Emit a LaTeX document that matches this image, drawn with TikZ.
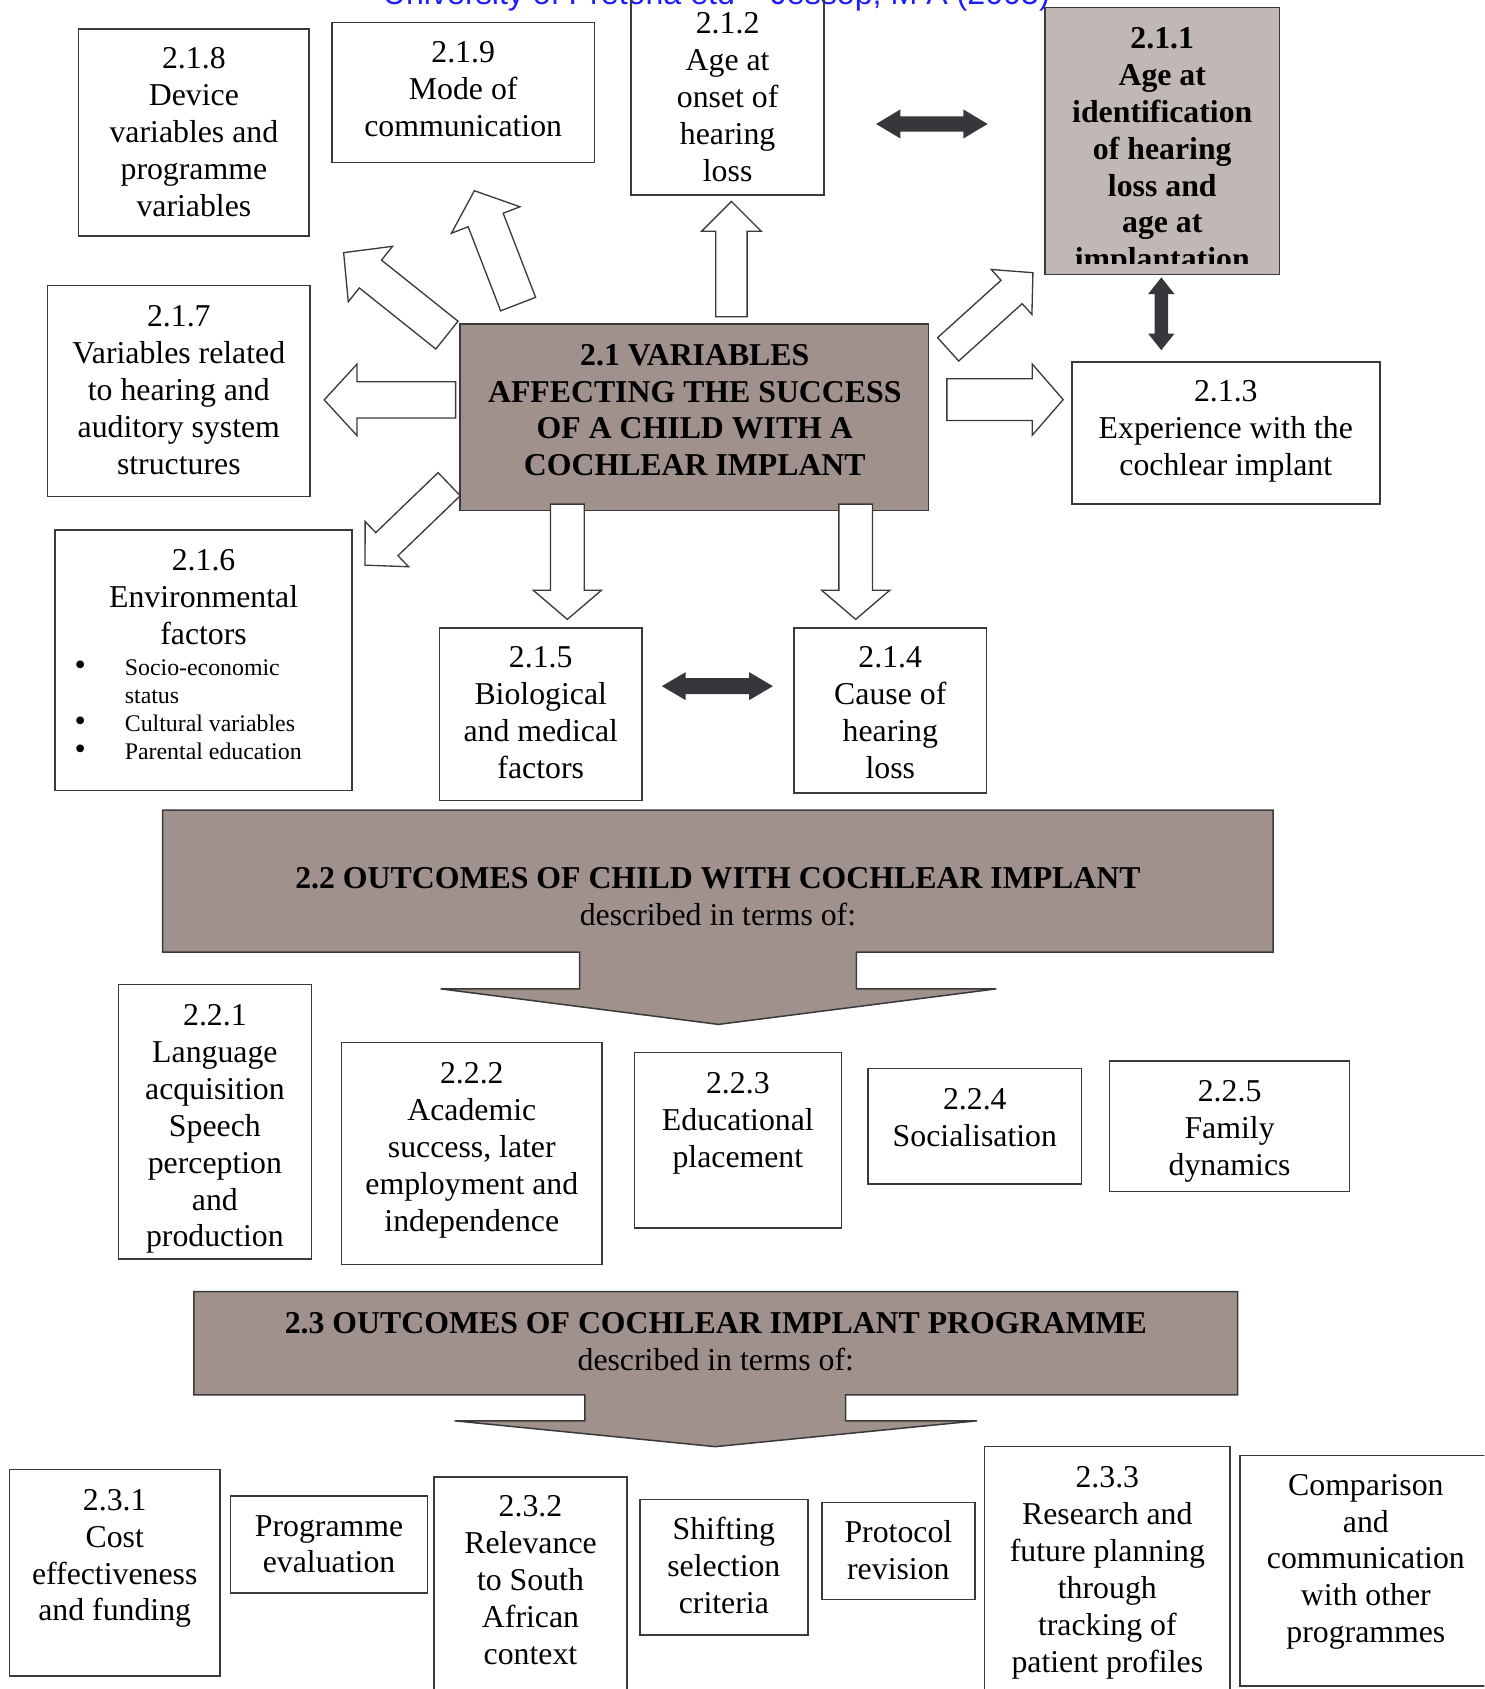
\documentclass[tikz,border=0pt]{standalone}
\usepackage{fontspec}
\setmainfont{Liberation Serif}
\newfontfamily\headfont{Liberation Sans}
\usetikzlibrary{shapes.arrows}
\definecolor{framegray}{RGB}{58,58,58}
\definecolor{boxbrown}{RGB}{160,145,141}
\definecolor{boxrose}{RGB}{193,184,181}
\definecolor{arrowdark}{RGB}{56,54,58}
\definecolor{headblue}{RGB}{30,30,250}
\def\pxl{0.02cm}
\def\lines#1{\begin{tabular}[t]{@{}c@{}}#1\end{tabular}}
\def\bigdot{{\fontsize{17}{14.8}\selectfont\textbullet}}
\tikzset{
  boxframe/.style={draw=framegray, line width=0.8pt, inner sep=0pt, outer sep=0pt},
  boxtext/.style={inner sep=0pt, font=\fontsize{16.8}{19.5}\selectfont},
  listtext/.style={inner sep=0pt, font=\fontsize{12.6}{14.8}\selectfont},
  hollowarrow/.style={single arrow, draw=framegray, fill=white, line width=0.7pt, inner xsep=0pt, outer sep=0pt, minimum width=0pt, anchor=tail},
  darkarrow/.style={double arrow, fill=arrowdark, inner xsep=0pt, outer sep=0pt, minimum width=0pt},
}
\def\mybox#1#2#3#4#5#6#7{
  % 1: name
  % 2: left
  % 3: top
  % 4: right
  % 5: bottom
  % 6: baseline of first line
  % 7: text
  \node[boxframe, minimum width={(#4-#2)*\pxl}, minimum height={(#5-#3)*\pxl}] (#1) at ({(#2+#4)/2},{(#3+#5)/2}) {};
  \node[boxtext, anchor=base] (#1-txt) at ({(#2+#4)/2},#6) {\lines{#7}};
}
\def\myarrow#1#2#3#4#5#6#7#8{
  % 1: name
  % 2: x of tail
  % 3: y of tail
  % 4: angle
  % 5: length
  % 6: shaft width
  % 7: head width
  % 8: tip angle
  \node[hollowarrow, rotate=#4, minimum height={#5*\pxl}, inner ysep={#6*\pxl/2},
    single arrow head extend={(#7-#6)*\pxl/2}, single arrow tip angle=#8] (#1) at (#2,#3) {};
}
\def\mydarrow#1#2#3#4#5#6#7#8{
  % 1: name
  % 2, 3: centre
  % 4-8: as \myarrow
  \node[darkarrow, rotate=#4, minimum height={#5*\pxl}, inner ysep={#6*\pxl/2},
    double arrow head extend={(#7-#6)*\pxl/2}, double arrow tip angle=#8] (#1) at (#2,#3) {};
}
\begin{document}
\begin{tikzpicture}[x=\pxl, y=-\pxl]
  \path[use as bounding box, clip] (0,0) rectangle (1378,1568);
  \node[font=\headfont\fontsize{17}{19}\selectfont, text=headblue, anchor=base, inner sep=0pt] (etd) at (665,4)
    {University of Pretoria etd – Jessop, M A (2005)};

  % 2.1 variables
  \mybox{b218}{73}{27}{287}{219}{64}{2.1.8\\Device\\variables and\\programme\\variables}
  \mybox{b219}{308}{21}{552}{151}{58}{2.1.9\\Mode of\\communication}
  \mybox{b212}{586}{-20}{765}{181}{31}{2.1.2\\Age at\\onset of\\hearing\\loss}
  \mybox{b217}{44}{265}{288}{461}{303}{2.1.7\\Variables related\\to hearing and\\auditory system\\structures}
  \mybox{b213}{995}{336}{1281}{468}{373}{2.1.3\\Experience with the\\cochlear implant}
  \mybox{b215}{408}{583}{596}{743}{620}{2.1.5\\Biological\\and medical\\factors}
  \mybox{b214}{737}{583}{916}{736}{620}{2.1.4\\Cause of\\hearing\\loss}

  \node[boxframe, fill=boxrose, minimum width=218*\pxl, minimum height=248*\pxl] (b211) at (1079,131) {};
  \begin{scope}
    \clip (970,7) rectangle (1188,244.5);
    \node[boxtext, font=\fontsize{16.8}{19.5}\selectfont\bfseries, anchor=base] (b211-txt) at (1079,45)
      {\lines{2.1.1\\Age at\\identification\\of hearing\\loss and\\age at\\implantation}};
  \end{scope}

  \node[boxframe, minimum width=276*\pxl, minimum height=242*\pxl] (b216) at (189,613) {};
  \node[boxtext, anchor=base] (b216-txt) at (189,530) {\lines{2.1.6\\Environmental\\factors}};
  \node[listtext, anchor=base west] (b216-list) at (69,627)
    {\begin{tabular}[t]{@{}p{26.5pt}@{}l@{}}\bigdot & Socio-economic\\ & status\\ \bigdot & Cultural variables\\ \bigdot & Parental education\end{tabular}};

  \node[boxframe, fill=boxbrown, minimum width=435*\pxl, minimum height=173*\pxl] (c21) at (644.5,387.5) {};
  \node[boxtext, font=\fontsize{16.8}{19.5}\selectfont\bfseries, anchor=base] (c21-txt) at (645,339)
    {\lines{2.1 VARIABLES\\AFFECTING THE SUCCESS\\OF A CHILD WITH A\\COCHLEAR IMPLANT}};

  % block arrows round the centre box
  \myarrow{arTwo}{679}{294}{90}{107}{28}{54}{90}
  \myarrow{arNine}{481}{282.3}{111.1}{112.8}{33.6}{67}{99}
  \myarrow{arEight}{414.9}{311.1}{141.4}{122.7}{31.8}{64.7}{92}
  \myarrow{arSeven}{423}{371.2}{180}{122}{32.5}{65}{95}
  \myarrow{arSix}{417}{449.5}{223.9}{108.4}{28.5}{57}{92}
  \myarrow{arOne}{880.2}{324.3}{42.1}{106.1}{28}{55}{93}
  \myarrow{arThree}{879}{371}{0}{108}{37.5}{65}{98}
  \myarrow{arFive}{526.7}{468}{-90}{107}{30}{62}{99}
  \myarrow{arFour}{794.4}{468}{-90}{107}{30}{62}{99}

  \mydarrow{dbOne}{865.1}{115.1}{0}{103.4}{13.3}{26.3}{62}
  \mydarrow{dbTwo}{666}{637}{0}{103.1}{14}{25.4}{61}
  \mydarrow{dbThree}{1078.1}{291.3}{90}{67.5}{11.8}{23.8}{77}

  % 2.2 outcomes of child
  \draw[boxframe, fill=boxbrown] (151,752) -- (1182,752) -- (1182,884) -- (795,884) -- (795,918) -- (925,918)
    -- (667,951) -- (409,918) -- (538,918) -- (538,884) -- (151,884) -- cycle;
  \node[boxtext, anchor=base] (c22-txt) at (666.5,825)
    {\lines{\textbf{2.2 OUTCOMES OF CHILD WITH COCHLEAR IMPLANT}\\described in terms of:}};

  \mybox{b221}{110}{914}{289}{1169}{952}{2.2.1\\Language\\acquisition\\Speech\\perception\\and\\production}
  \mybox{b222}{317}{968}{559}{1174}{1006}{2.2.2\\Academic\\success, later\\employment and\\independence}
  \mybox{b223}{589}{977}{781}{1140}{1015}{2.2.3\\Educational\\placement}
  \mybox{b224}{806}{992}{1004}{1099}{1030}{2.2.4\\Socialisation}
  \mybox{b225}{1030}{985}{1253}{1106}{1023}{2.2.5\\Family\\dynamics}

  % 2.3 outcomes of programme
  \draw[boxframe, fill=boxbrown] (180,1199) -- (1149,1199) -- (1149,1295) -- (785,1295) -- (785,1319) -- (907,1319)
    -- (664,1343) -- (422,1319) -- (543,1319) -- (543,1295) -- (180,1295) -- cycle;
  \node[boxtext, anchor=base] (c23-txt) at (664.5,1238)
    {\lines{\textbf{2.3 OUTCOMES OF COCHLEAR IMPLANT PROGRAMME}\\described in terms of:}};

  \mybox{b231}{9}{1364}{204}{1556}{1402}{2.3.1\\Cost\\effectiveness\\and funding}
  \mybox{bpe}{214}{1389}{397}{1479}{1426}{Programme\\evaluation}
  \mybox{b232}{403}{1371}{582}{1600}{1408}{2.3.2\\Relevance\\to South\\African\\context}
  \mybox{bssc}{594}{1392}{750}{1518}{1429}{Shifting\\selection\\criteria}
  \mybox{bpr}{763}{1395}{905}{1485}{1432}{Protocol\\revision}
  \mybox{b233}{914}{1343}{1142}{1600}{1381}{2.3.3\\Research and\\future planning\\through\\tracking of\\patient profiles}
  \mybox{bcmp}{1151}{1351}{1385}{1565}{1388}{Comparison\\and\\communication\\with other\\programmes}
\end{tikzpicture}
\end{document}
